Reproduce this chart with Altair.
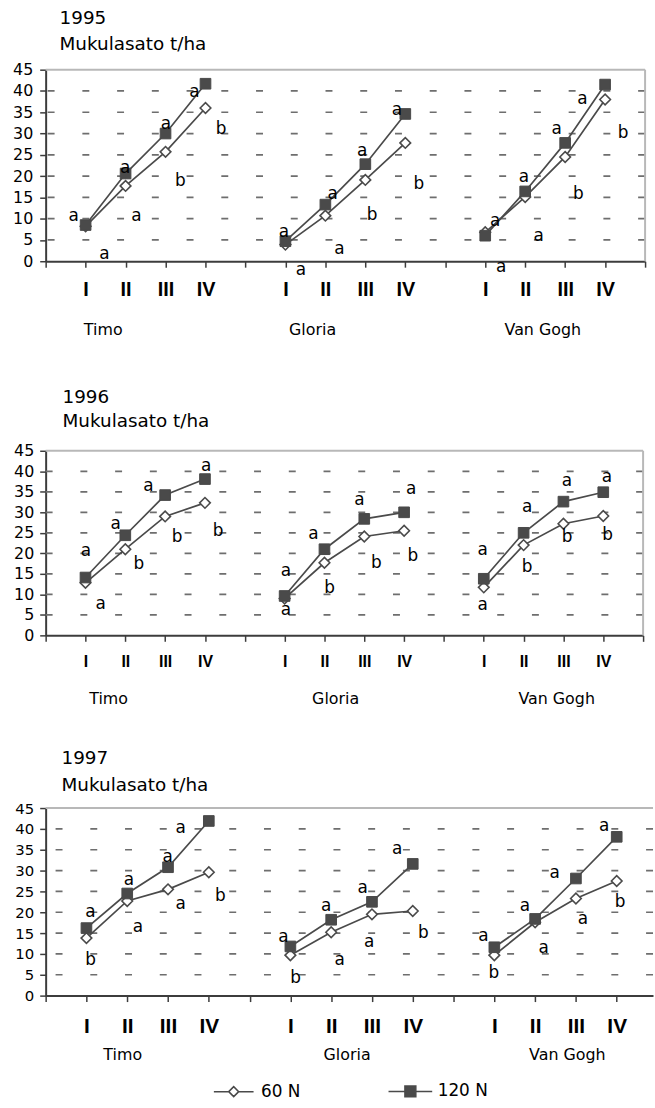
import json

import altair as alt
import pandas as pd

# ---- categories ---------------------------------------------------------
CULTIVARS = ["Timo", "Gloria", "Van Gogh"]
STAGES = ["I", "II", "III", "IV"]
SERIES = ["60 N", "120 N"]
AXIS_LABELS = ["", "I", "II", "III", "IV", "", "I", "II", "III", "IV",
               "", "I", "II", "III", "IV", ""]
Y_TICKS = [0, 5, 10, 15, 20, 25, 30, 35, 40, 45]
GRID_Y = [5, 10, 15, 20, 25, 30, 35, 40]

# ---- tuber yield, t/ha (Timo I-IV, Gloria I-IV, Van Gogh I-IV) ----------
Y1995_60N = [8.2, 17.7, 25.7, 36.0, 3.9, 10.7, 19.1, 27.8, 6.8, 15.1, 24.5, 38.0]
Y1995_120N = [8.5, 20.6, 30.0, 41.7, 4.7, 13.3, 22.8, 34.6, 6.0, 16.4, 27.8, 41.5]
Y1996_60N = [12.8, 21.0, 29.0, 32.3, 9.0, 17.7, 24.1, 25.5, 11.7, 22.0, 27.2, 29.1]
Y1996_120N = [14.1, 24.4, 34.2, 38.1, 9.6, 21.0, 28.4, 30.0, 13.8, 25.0, 32.6, 34.9]
Y1997_60N = [13.8, 22.7, 25.5, 29.6, 9.7, 15.2, 19.5, 20.3, 9.7, 17.6, 23.3, 27.5]
Y1997_120N = [16.2, 24.5, 30.8, 41.9, 11.8, 18.2, 22.5, 31.6, 11.6, 18.4, 28.1, 38.1]

# ---- significance letters: (letter, x slot, y in t/ha) -------------------
LETTERS_1995 = [
    ("a", 0.70, 10.7), ("a", 1.47, 1.6), ("a", 1.99, 22.0), ("a", 2.27, 10.7),
    ("a", 3.01, 32.3), ("b", 3.37, 18.9), ("a", 3.72, 39.8), ("b", 4.39, 31.1),
    ("a", 5.96, 6.8), ("a", 6.39, -2.0), ("a", 7.18, 15.9), ("a", 7.35, 2.9),
    ("a", 7.92, 25.9), ("b", 8.17, 10.8), ("a", 8.79, 35.6), ("b", 9.34, 18.1),
    ("a", 11.25, 9.5), ("a", 11.40, -1.4), ("a", 11.97, 19.8), ("a", 12.34, 6.0),
    ("a", 12.79, 31.1), ("b", 13.33, 15.9), ("a", 13.43, 38.2), ("b", 14.45, 30.2),
]
LETTERS_1996 = [
    ("a", 1.01, 20.6), ("a", 1.38, 7.7), ("a", 1.76, 27.2), ("b", 2.34, 17.5),
    ("a", 2.58, 36.5), ("b", 3.30, 24.0), ("a", 4.03, 41.4), ("b", 4.33, 25.4),
    ("a", 6.03, 15.8), ("a", 6.03, 6.2), ("a", 6.72, 24.6), ("b", 7.13, 11.5),
    ("a", 7.88, 32.9), ("b", 8.30, 17.7), ("a", 9.18, 35.7), ("b", 9.22, 19.3),
    ("a", 10.97, 20.8), ("a", 10.97, 7.3), ("a", 12.09, 31.3), ("b", 12.09, 16.7),
    ("a", 13.09, 37.7), ("b", 13.09, 24.0), ("a", 14.09, 38.5), ("b", 14.11, 24.4),
]
LETTERS_1997 = [
    ("a", 1.10, 20.1), ("b", 1.10, 8.5), ("a", 2.04, 27.8), ("a", 2.26, 16.4),
    ("a", 2.99, 33.2), ("a", 3.31, 21.9), ("a", 3.31, 40.1), ("b", 4.28, 23.9),
    ("a", 5.83, 14.0), ("b", 6.13, 4.1), ("a", 6.88, 21.5), ("a", 7.21, 8.5),
    ("a", 7.77, 25.9), ("a", 7.93, 12.8), ("a", 8.62, 35.1), ("b", 9.26, 15.0),
    ("a", 10.73, 14.4), ("b", 10.99, 5.3), ("a", 11.75, 21.5), ("a", 12.21, 11.4),
    ("a", 12.48, 29.4), ("a", 13.17, 18.4), ("a", 13.69, 40.7), ("b", 14.08, 22.5),
]

# ---- styling ------------------------------------------------------------
FONT = "DejaVu Sans"
ROMAN_FONT = "Liberation Sans"
INK = "#4a4a4a"
AXIS_INK = "#3c3c3c"
GRID_INK = "#6e6e6e"
FRAME_INK = "#b8b8b8"

# legend keys: short line through the marker, as custom symbol paths
DIAMOND_KEY = "M-4,0H-1M1,0H4M-1,0L0,-1L1,0L0,1Z"
SQUARE_KEY = "M-4.4,0H-1.1M1.1,0H4.4M-1.1,-1.1H1.1V1.1H-1.1Z"


def yield_table(y60, y120):
    rows = []
    for c, cultivar in enumerate(CULTIVARS):
        for s, stage in enumerate(STAGES):
            slot = 1 + 5 * c + s
            for series, vals in ((SERIES[0], y60), (SERIES[1], y120)):
                rows.append({"cultivar": cultivar, "stage": stage, "series": series,
                             "pos": slot, "val": vals[4 * c + s]})
    return pd.DataFrame(rows)


def panel(year, y60, y120, letters, cfg, with_legend=False):
    df = yield_table(y60, y120)
    xmax = cfg["xmax"]
    xscale = alt.Scale(domain=[0, xmax], nice=False, zero=False)
    yscale = alt.Scale(domain=[0, 45], nice=False, zero=False)
    tick_vals = [v for v in range(len(AXIS_LABELS)) if v <= xmax]

    x_axis = alt.Axis(
        values=tick_vals, title=None, grid=False,
        labelExpr=json.dumps(AXIS_LABELS) + "[datum.value]",
        tickSize=6, tickWidth=1.5, tickColor=AXIS_INK,
        domainColor=AXIS_INK, domainWidth=2,
        labelFont=ROMAN_FONT, labelFontWeight="bold", labelFontSize=cfg["roman_size"],
        labelColor="black", labelBaseline="middle", labelPadding=cfg["roman_pad"],
        labelOverlap=False, labelFlush=False,
    )
    y_axis = alt.Axis(
        values=Y_TICKS, title=None, grid=False,
        tickSize=6, tickWidth=1.5, tickColor=AXIS_INK,
        domainColor=AXIS_INK, domainWidth=2,
        labelFont=FONT, labelFontSize=cfg["ylab_size"], labelColor="black",
        labelPadding=cfg["ylab_pad"],
    )

    def X():
        return alt.X("pos:Q", scale=xscale, axis=x_axis)

    def Y():
        return alt.Y("val:Q", scale=yscale, axis=y_axis)

    layers = []
    layers.append(
        alt.Chart(pd.DataFrame({"val": GRID_Y}))
        .mark_rule(color=GRID_INK, strokeWidth=1.7, strokeDash=[7, 28])
        .encode(y=Y())
    )
    layers.append(
        alt.Chart(pd.DataFrame({"val": [45]}))
        .mark_rule(color=FRAME_INK, strokeWidth=2)
        .encode(y=Y())
    )
    if xmax >= 15:
        layers.append(
            alt.Chart(pd.DataFrame({"pos": [15]}))
            .mark_rule(color=FRAME_INK, strokeWidth=2)
            .encode(x=X())
        )
    layers.append(
        alt.Chart(df).mark_line(color=INK, strokeWidth=1.7)
        .encode(x=X(), y=Y(), detail=["series:N", "cultivar:N"])
    )
    layers.append(
        alt.Chart(df).transform_filter(alt.datum.series == SERIES[0])
        .mark_point(shape="diamond", filled=True, fill="white", stroke=INK,
                    strokeWidth=1.6, size=115, opacity=1)
        .encode(x=X(), y=Y())
    )
    layers.append(
        alt.Chart(df).transform_filter(alt.datum.series == SERIES[1])
        .mark_point(shape="square", filled=True, fill=INK, stroke=INK,
                    strokeWidth=1, size=115, opacity=1)
        .encode(x=X(), y=Y())
    )
    layers.append(
        alt.Chart(pd.DataFrame(letters, columns=["txt", "pos", "val"]))
        .mark_text(font=FONT, fontSize=17, color="black", baseline="middle", align="center")
        .encode(x=X(), y=Y(), text="txt:N")
    )
    layers.append(
        alt.Chart(pd.DataFrame({"txt": CULTIVARS, "pos": cfg["group_x"]}))
        .mark_text(font=FONT, fontSize=cfg["group_size"], color="black",
                   baseline="middle", align="center")
        .encode(x=X(), y=alt.value(cfg["group_y"]), text="txt:N")
    )
    if with_legend:
        legend = alt.Legend(
            orient="none", legendX=cfg["legend_x"], legendY=cfg["legend_y"],
            direction="horizontal", title=None,
            symbolSize=100, symbolStrokeWidth=1.5, symbolStrokeColor=INK,
            labelFont=FONT, labelFontSize=17, labelColor="black",
            labelOffset=19, columnPadding=85,
        )
        empty = pd.DataFrame({"pos": pd.Series([], dtype=float),
                              "val": pd.Series([], dtype=float),
                              "series": pd.Series([], dtype=str)})
        layers.append(
            alt.Chart(empty)
            .mark_point(filled=True, strokeWidth=1.5, opacity=1)
            .encode(
                x=X(), y=Y(),
                shape=alt.Shape("series:N", scale=alt.Scale(domain=SERIES, range=[DIAMOND_KEY, SQUARE_KEY]), legend=legend),
                fill=alt.Fill("series:N", scale=alt.Scale(domain=SERIES, range=["white", INK]), legend=legend),
                stroke=alt.Stroke("series:N", scale=alt.Scale(domain=SERIES, range=[INK, INK]), legend=legend),
            )
        )

    title = alt.TitleParams(
        text=[str(year), "Mukulasato t/ha"], anchor="start", frame="group",
        font=FONT, fontSize=18.5, fontWeight="normal", color="black",
        lineHeight=cfg["title_lh"], dx=cfg["title_dx"], offset=cfg["title_offset"],
        baseline="bottom",
    )
    return alt.layer(*layers).properties(width=cfg["w"], height=cfg["h"], title=title)


p1 = panel(1995, Y1995_60N, Y1995_120N, LETTERS_1995, dict(
    w=604, h=193, xmax=15, ylab_size=16, ylab_pad=7, roman_size=20, roman_pad=23,
    group_x=[1.44, 6.68, 12.44], group_y=262, group_size=16,
    title_lh=26.5, title_dx=14, title_offset=-11))
p2 = panel(1996, Y1996_60N, Y1996_120N, LETTERS_1996, dict(
    w=602, h=186, xmax=15, ylab_size=16, ylab_pad=6, roman_size=16, roman_pad=20,
    group_x=[1.58, 7.28, 12.83], group_y=250, group_size=16,
    title_lh=25, title_dx=17, title_offset=-7))
p3 = panel(1997, Y1997_60N, Y1997_120N, LETTERS_1997, dict(
    w=612, h=189, xmax=14.89, ylab_size=15, ylab_pad=6, roman_size=21, roman_pad=25,
    group_x=[1.89, 7.39, 12.79], group_y=249, group_size=16,
    title_lh=27, title_dx=16, title_offset=-12,
    legend_x=181, legend_y=277), with_legend=True)

chart = (
    alt.vconcat(alt.vconcat(p1, p2, spacing=49), p3, spacing=41)
    .resolve_scale(shape="independent", fill="independent", stroke="independent")
    .resolve_legend(shape="independent", fill="independent", stroke="independent")
    .configure_view(stroke="transparent")
    .properties(padding={"left": 12, "top": 4, "right": 0, "bottom": 0}, background="white")
)

chart.save("out.html", embed_options={"renderer": "svg", "actions": False})
